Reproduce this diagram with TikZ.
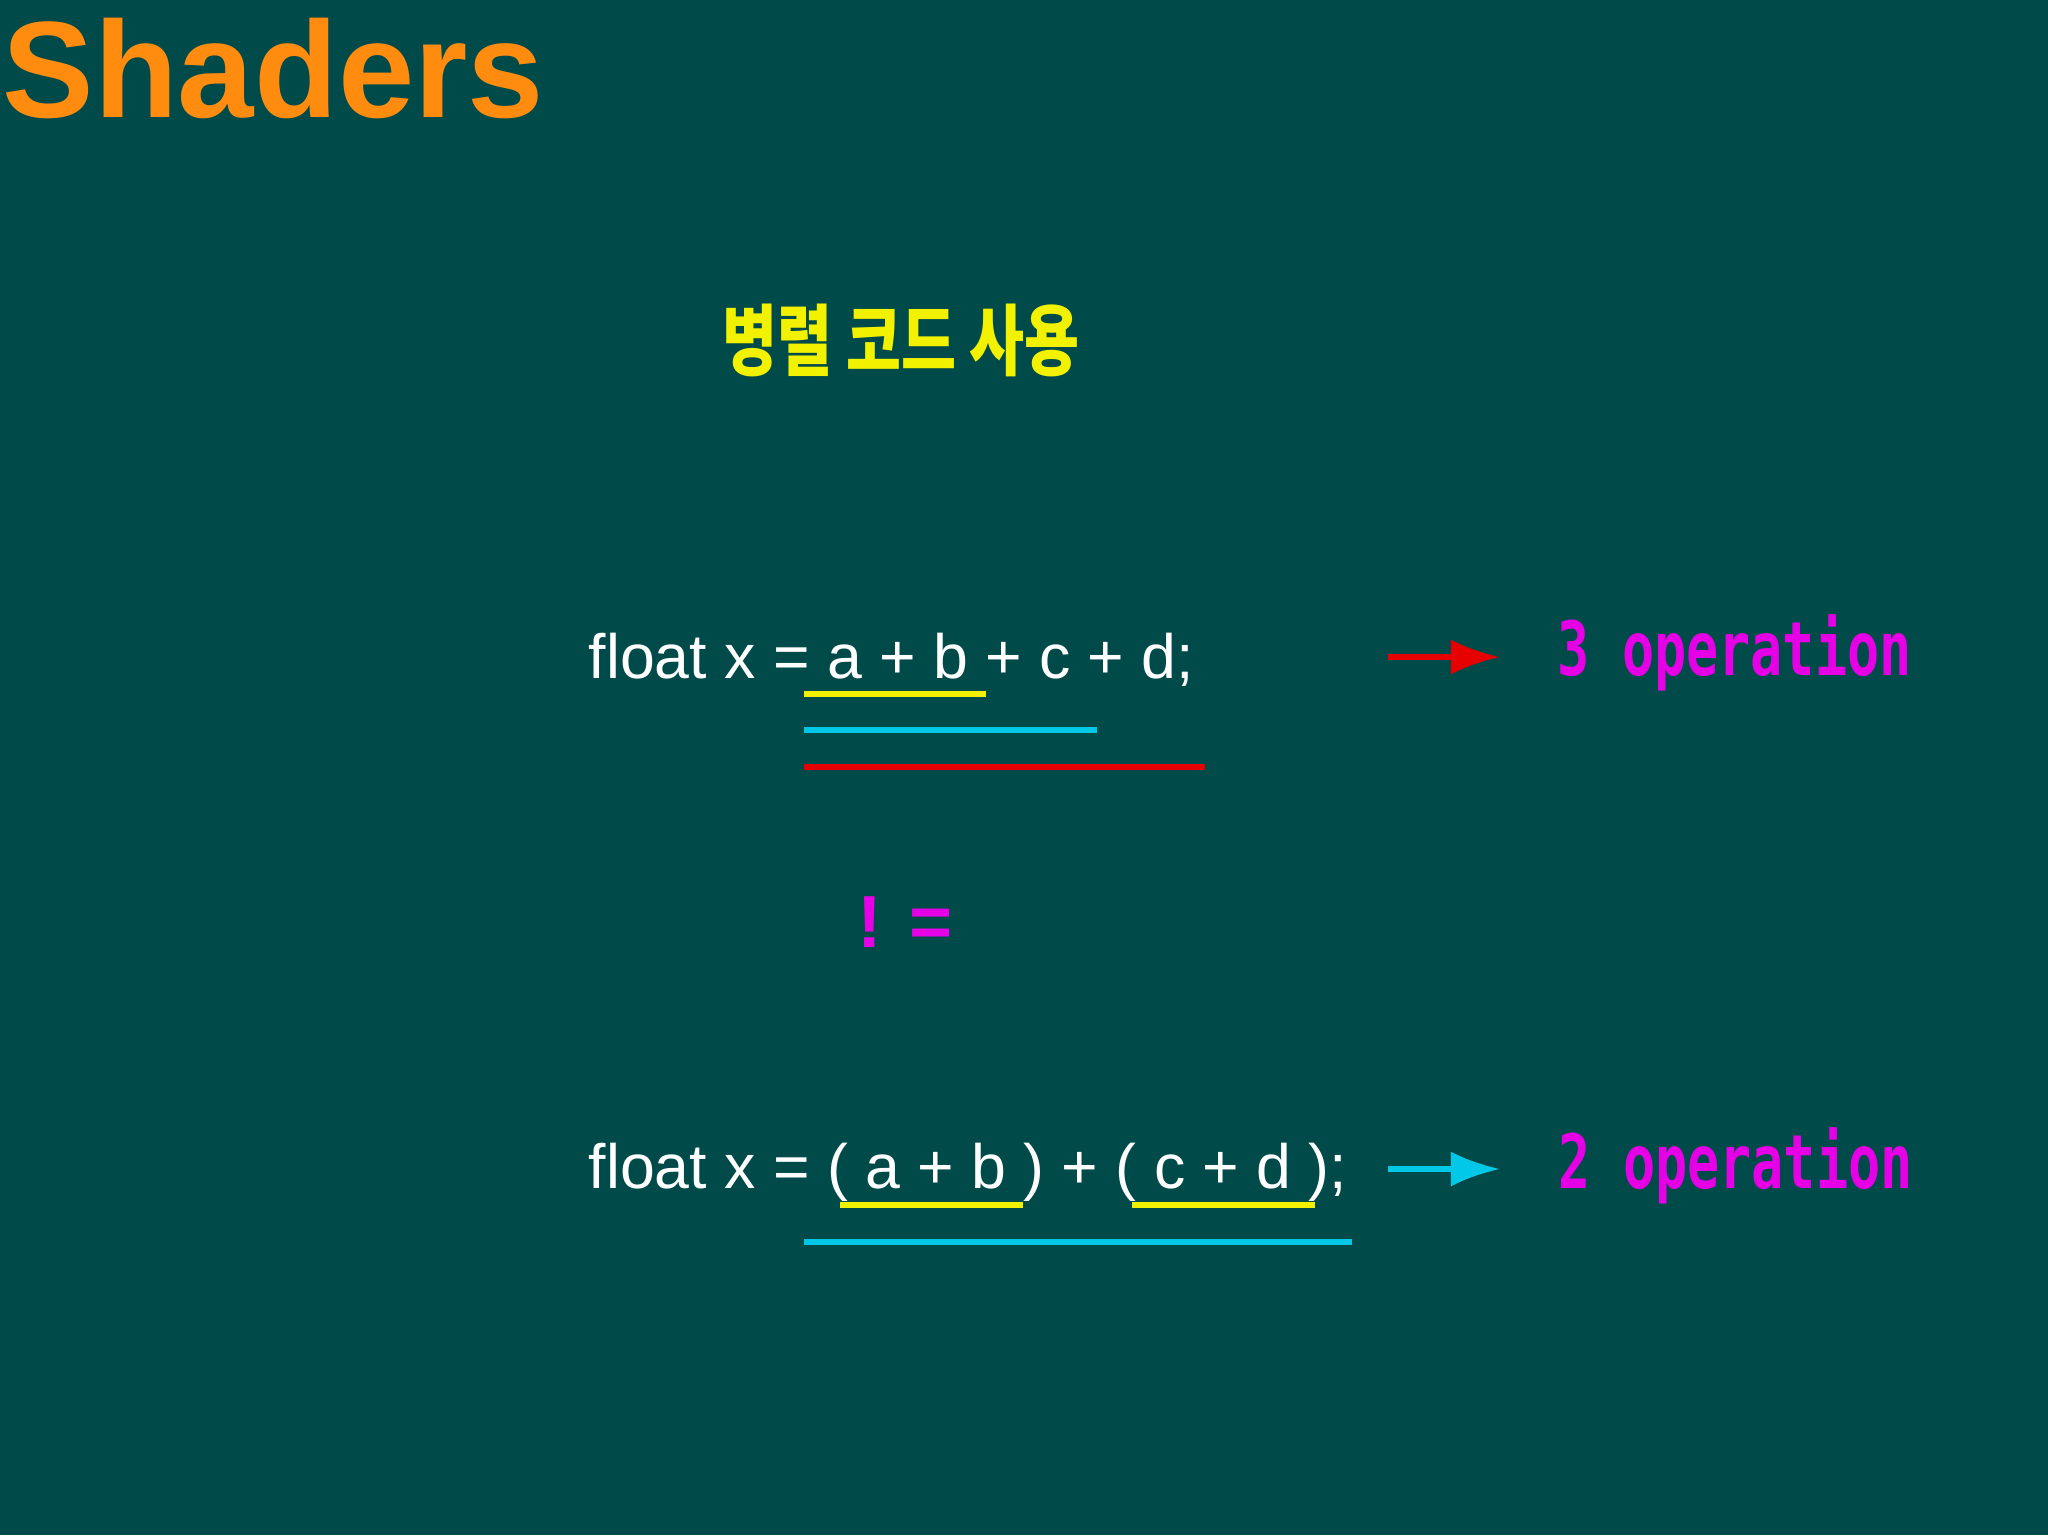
\documentclass[tikz,border=0pt]{standalone}
\usepackage{fontspec}
\usetikzlibrary{arrows.meta}
\setmainfont{Liberation Sans}
\newfontfamily\kofont{Noto Sans CJK KR}
\newfontfamily\opfont{DejaVu Sans Mono}
\definecolor{bgc}{HTML}{004A4A}
\definecolor{ttl}{HTML}{FF8C0F}
\definecolor{yel}{HTML}{F2F200}
\definecolor{cyn}{HTML}{00C8E6}
\definecolor{rd}{HTML}{E60000}
\definecolor{mag}{HTML}{E600E6}
\begin{document}
\begin{tikzpicture}[x=0.01cm,y=-0.01cm,
  code/.style={anchor=west,inner sep=0pt,text=white,font=\fontsize{17.8}{20}\selectfont},
  op/.style={anchor=west,inner sep=0pt,text=mag,font=\opfont\bfseries\fontsize{15.2}{18}\selectfont,yscale=1.4},
  ar/.style={line width=1.5pt,-{Latex[length=14pt,width=10pt]}}]
\useasboundingbox[fill=bgc] (0,0) rectangle (2048,1535);
\node[anchor=west,inner sep=0pt,text=ttl,font=\bfseries\fontsize{39}{44}\selectfont] (title) at (2,68) {Shaders};
\node[text=yel,font=\kofont\bfseries\fontsize{17}{20}\selectfont,yscale=1.3] (ko) at (901,340) {병렬 코드 사용};
\node[code] (l1) at (588,660) {float x = a + b + c + d;};
\draw[yel,line width=1.8pt] (804,694) coordinate (y1a) -- (986,694) coordinate (y1b);
\draw[cyn,line width=1.8pt] (804,730) coordinate (c1a) -- (1097,730) coordinate (c1b);
\draw[rd,line width=1.8pt] (804,767) coordinate (r1a) -- (1205,767) coordinate (r1b);
\coordinate (a1s) at (1388,657); \coordinate (a1e) at (1500,657);
\draw[rd,ar] (a1s) -- (a1e);
\node[op] (o1) at (1557,653) {3 operation};
\node[text=mag,font=\bfseries\fontsize{21}{24}\selectfont] (ne) at (905,922) {! =};
\node[code] (l2) at (588,1172) {float x = ( a + b ) + ( c + d );};
\draw[yel,line width=1.8pt] (840,1205) coordinate (y2a) -- (1023,1205) coordinate (y2b);
\draw[yel,line width=1.8pt] (1132,1205) coordinate (y3a) -- (1315,1205) coordinate (y3b);
\draw[cyn,line width=1.8pt] (804,1242) coordinate (c2a) -- (1352,1242) coordinate (c2b);
\coordinate (a2s) at (1388,1169); \coordinate (a2e) at (1500,1169);
\draw[cyn,ar] (a2s) -- (a2e);
\node[op] (o2) at (1558,1166) {2 operation};
\end{tikzpicture}
\end{document}
